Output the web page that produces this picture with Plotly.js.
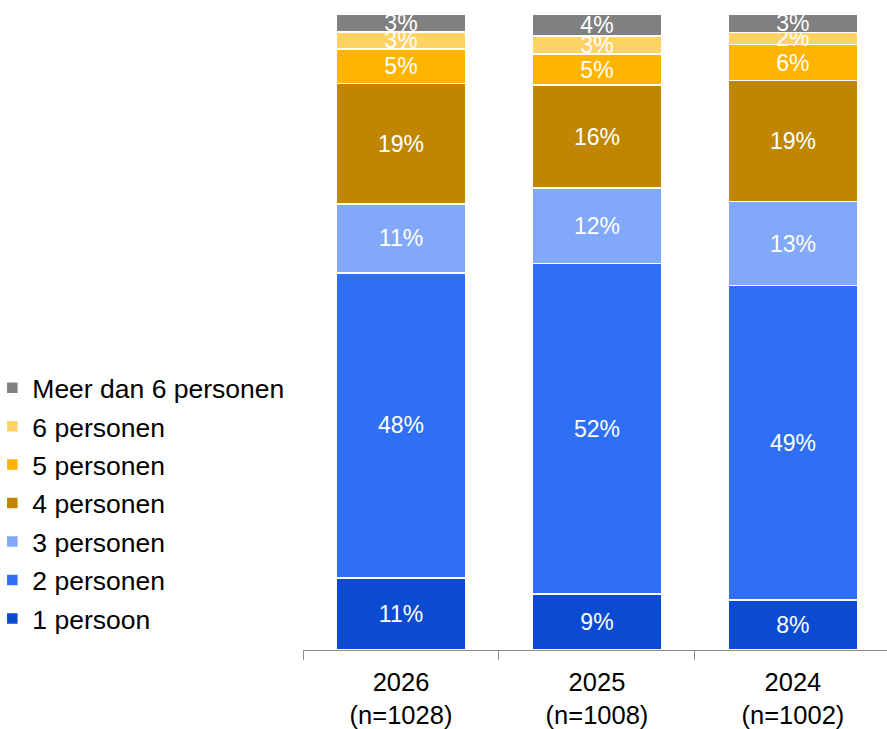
<!DOCTYPE html>
<html>
<head>
<meta charset="utf-8">
<script src="https://cdn.plot.ly/plotly-3.0.1.min.js"></script>
<style>html,body{margin:0;padding:0;background:#fff;}#chart{width:887px;height:729px;}</style>
</head>
<body>
<div id="chart"></div>
<script>
var categories = ["2026<br>(n=1028)", "2025<br>(n=1008)", "2024<br>(n=1002)"];
var seriesNames = ["1 persoon", "2 personen", "3 personen", "4 personen", "5 personen", "6 personen", "Meer dan 6 personen"];
var p1 = [11.3, 8.8, 7.9];
var p2 = [48.0, 52.0, 49.4];
var p3 = [10.8, 11.8, 13.2];
var p4 = [19.0, 16.2, 19.0];
var p5 = [5.4, 4.9, 5.7];
var p6 = [2.7, 2.8, 1.9];
var pMeer = [2.8, 3.5, 2.9];
var colors = ["#0B4BD2", "#2E6FF5", "#82A8FA", "#C08600", "#FFB400", "#FFD266", "#808080"];

var series = [p1, p2, p3, p4, p5, p6, pMeer];
var traces = series.map(function (vals, i) {
  return {
    type: "bar",
    name: seriesNames[i],
    legendgroup: "g" + i,
    legendrank: 1000 - i,
    x: categories,
    y: vals,
    text: vals.map(function (v) { return Math.round(v) + "%"; }),
    textposition: "inside",
    insidetextanchor: "middle",
    constraintext: "none",
    textangle: 0,
    cliponaxis: false,
    textfont: { family: "Liberation Sans, Arial, sans-serif", size: 23, color: "#ffffff" },
    marker: { color: colors[i], line: { color: "#ffffff", width: 1.5 } },
    width: 0.66,
    hoverinfo: "skip"
  };
});

var layout = {
  width: 887,
  height: 729,
  barmode: "stack",
  paper_bgcolor: "#ffffff",
  plot_bgcolor: "#ffffff",
  margin: { l: 303, r: 0, t: 13, b: 79, autoexpand: false },
  font: { family: "Liberation Sans, Arial, sans-serif", color: "#000000" },
  showlegend: true,
  legend: {
    traceorder: "grouped",
    tracegroupgap: 1,
    x: -0.532,
    xanchor: "left",
    y: 0.449,
    yanchor: "top",
    font: { size: 26.5, color: "#000000" },
    bgcolor: "rgba(0,0,0,0)",
    itemclick: false
  },
  xaxis: {
    type: "category",
    range: [-0.5, 2.48],
    showline: true,
    linecolor: "#8c8c8c",
    linewidth: 1,
    ticks: "outside",
    tickson: "boundaries",
    ticklen: 9,
    tickcolor: "#8c8c8c",
    ticklabelstandoff: 9,
    tickfont: { size: 25.5, color: "#000000" },
    showgrid: false,
    zeroline: false,
    fixedrange: true
  },
  yaxis: {
    range: [0, 100.15],
    visible: false,
    showgrid: false,
    zeroline: false,
    fixedrange: true
  }
};

Plotly.newPlot("chart", traces, layout, { displayModeBar: false, staticPlot: true });
</script>
</body>
</html>
